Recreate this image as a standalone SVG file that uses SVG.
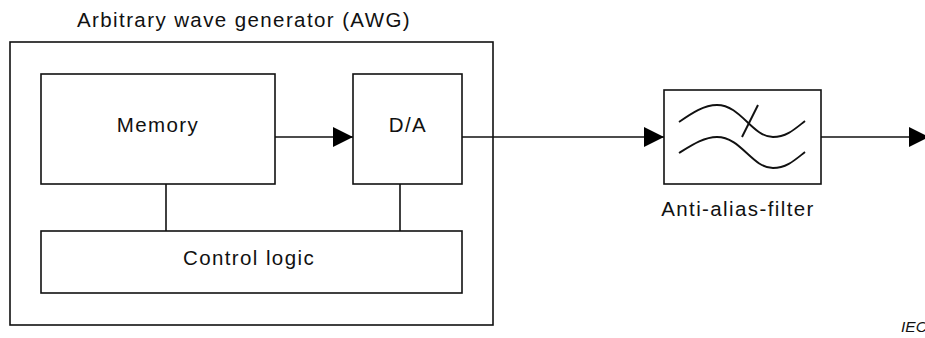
<svg xmlns="http://www.w3.org/2000/svg" width="925" height="338" viewBox="0 0 925 338">
<style>
  .box{fill:#fff;stroke:#111;stroke-width:1.6}
  .ln{fill:none;stroke:#111;stroke-width:1.6}
  .cv{fill:none;stroke:#111;stroke-width:1.9}
  .t{font-family:"Liberation Sans",Arial,sans-serif;font-size:20.5px;letter-spacing:1.4px;fill:#111;text-anchor:middle}
  .iec{font-family:"Liberation Sans",Arial,sans-serif;font-size:15.5px;font-style:italic;fill:#111}
</style>
<defs>
  <marker id="arr" markerWidth="20" markerHeight="20" refX="20" refY="10" orient="auto" markerUnits="userSpaceOnUse">
    <path d="M0,0 L20,10 L0,20 Z" fill="#000"/>
  </marker>
</defs>
<g id="awg">
  <rect class="box" x="10" y="42" width="483" height="283"/>
  <text class="t" x="244" y="27">Arbitrary wave generator (AWG)</text>
</g>
<g id="connectors">
  <line class="ln" x1="275" y1="137" x2="353" y2="137" marker-end="url(#arr)"/>
  <line class="ln" x1="462" y1="137" x2="664" y2="137" marker-end="url(#arr)"/>
  <line class="ln" x1="821" y1="137" x2="929" y2="137" marker-end="url(#arr)"/>
  <line class="ln" x1="166" y1="184" x2="166" y2="231"/>
  <line class="ln" x1="400" y1="184" x2="400" y2="231"/>
</g>
<g id="memory">
  <rect class="box" x="41" y="74" width="234" height="110"/>
  <text class="t" x="158" y="132">Memory</text>
</g>
<g id="da">
  <rect class="box" x="353" y="74" width="109" height="110"/>
  <text class="t" x="408" y="132">D/A</text>
</g>
<g id="control">
  <rect class="box" x="41" y="231" width="421" height="62"/>
  <text class="t" x="249" y="265">Control logic</text>
</g>
<g id="filter">
  <rect class="box" x="664" y="90" width="157" height="94"/>
  <path class="cv" d="M679,122 C692,113 704,105 717,105 C741,105 752,137 773,137 C787,137 796,128 805,121"/>
  <path class="cv" d="M679,153 C692,145 704,137 717,137 C741,137 752,168 773,168 C787,168 796,159 805,152"/>
  <line class="cv" x1="758" y1="105" x2="742" y2="137"/>
  <text class="t" x="738" y="216">Anti-alias-filter</text>
</g>
<text class="iec" x="901" y="331.5">IEC</text>
</svg>
